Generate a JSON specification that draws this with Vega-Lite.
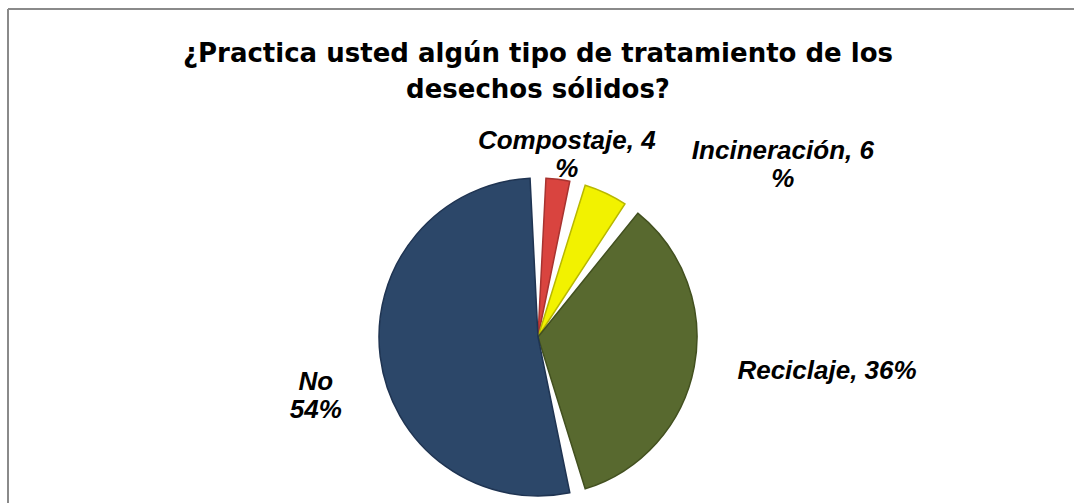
{
  "$schema": "https://vega.github.io/schema/vega-lite/v6.json",
  "width": 1060,
  "height": 656,
  "autosize": "none",
  "padding": {"left": 8, "top": 9, "right": 8, "bottom": -162},
  "background": "white",
  "config": {
    "view": {"stroke": null},
    "text": {"font": "Liberation Sans", "fontSize": 26, "fontWeight": "bold", "fontStyle": "italic", "color": "black", "lineBreak": "\n", "lineHeight": 28}
  },
  "title": {
    "text": ["¿Practica usted algún tipo de tratamiento de los", "desechos sólidos?"],
    "font": "DejaVu Sans",
    "fontSize": 26,
    "fontWeight": "bold",
    "color": "black",
    "anchor": "middle",
    "lineHeight": 36,
    "offset": -95
  },
  "data": {
    "values": [
      {"cat": "Compostaje", "v": 4, "i": 1, "label": "Compostaje, 4\n%"},
      {"cat": "Incineración", "v": 6, "i": 2, "label": "Incineración, 6\n%"},
      {"cat": "Reciclaje", "v": 36, "i": 3, "label": "Reciclaje, 36%"},
      {"cat": "No", "v": 54, "i": 4, "label": "No\n54%"}
    ]
  },
  "layer": [
    {"mark": {"type": "rule", "stroke": "#8a8a8a", "strokeWidth": 2}, "encoding": {"y": {"value": 0}, "x": {"value": 0}, "x2": {"value": 1066}}},
    {"mark": {"type": "rule", "stroke": "#8a8a8a", "strokeWidth": 2}, "encoding": {"x": {"value": 0}, "y": {"value": 0}, "y2": {"value": 494}}},
    {
      "mark": {"type": "arc", "outerRadius": 159, "padAngle": 0.1, "strokeWidth": 1.5},
      "encoding": {
        "theta": {"field": "v", "type": "quantitative", "stack": true},
        "order": {"field": "i", "type": "quantitative"},
        "color": {
          "field": "cat",
          "type": "nominal",
          "scale": {"domain": ["Compostaje", "Incineración", "Reciclaje", "No"], "range": ["#d9443f", "#f2f200", "#58692f", "#2c4769"]},
          "legend": null
        },
        "stroke": {
          "field": "cat",
          "type": "nominal",
          "scale": {"domain": ["Compostaje", "Incineración", "Reciclaje", "No"], "range": ["#a83330", "#b8b800", "#42501f", "#1f3452"]},
          "legend": null
        }
      }
    },
    {
      "mark": {"type": "text", "radius": 198, "dx": 4, "align": "center", "baseline": "middle"},
      "encoding": {
        "theta": {"field": "v", "type": "quantitative", "stack": true},
        "order": {"field": "i", "type": "quantitative"},
        "text": {"condition": {"test": "datum.cat === 'Compostaje'", "field": "label"}, "value": ""}
      }
    },
    {
      "mark": {"type": "text", "radius": 190, "dx": 164, "dy": -14, "align": "center", "baseline": "middle"},
      "encoding": {
        "theta": {"field": "v", "type": "quantitative", "stack": true},
        "order": {"field": "i", "type": "quantitative"},
        "text": {"condition": {"test": "datum.cat === 'Incineración'", "field": "label"}, "value": ""}
      }
    },
    {
      "mark": {"type": "text", "radius": 203, "dy": -4, "align": "left", "baseline": "middle"},
      "encoding": {
        "theta": {"field": "v", "type": "quantitative", "stack": true},
        "order": {"field": "i", "type": "quantitative"},
        "text": {"condition": {"test": "datum.cat === 'Reciclaje'", "field": "label"}, "value": ""}
      }
    },
    {
      "mark": {"type": "text", "radius": 226, "dx": 2, "dy": 17, "align": "center", "baseline": "middle"},
      "encoding": {
        "theta": {"field": "v", "type": "quantitative", "stack": true},
        "order": {"field": "i", "type": "quantitative"},
        "text": {"condition": {"test": "datum.cat === 'No'", "field": "label"}, "value": ""}
      }
    }
  ]
}
